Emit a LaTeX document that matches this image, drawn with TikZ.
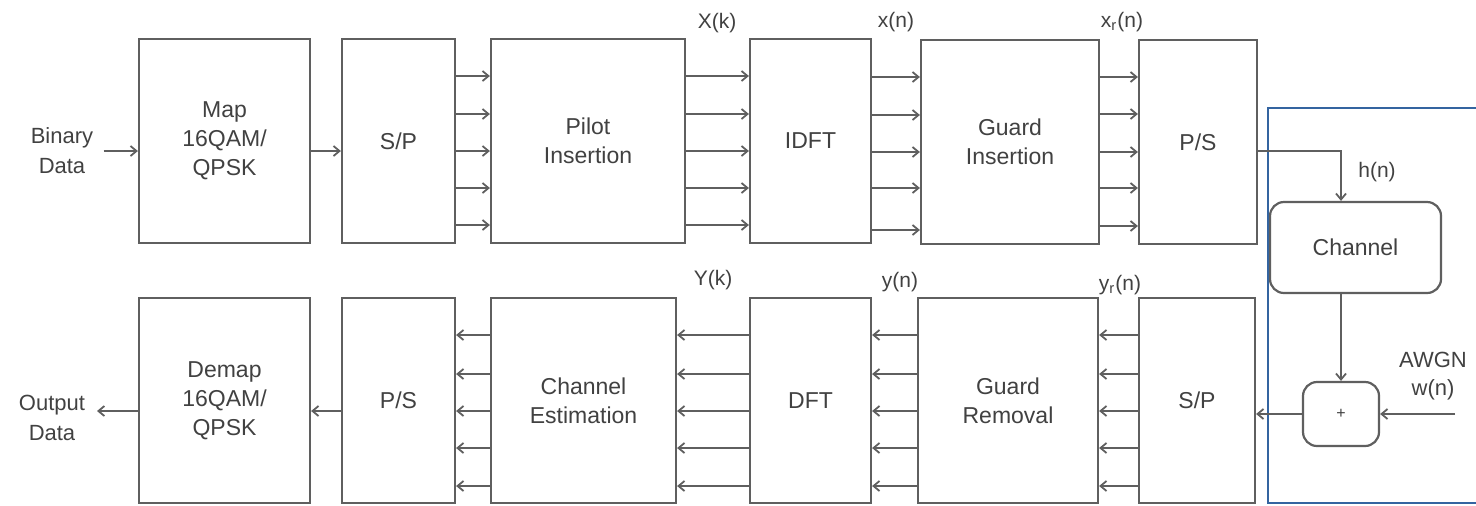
\documentclass[tikz,border=0pt]{standalone}
\usepackage{fontspec}
\setmainfont{Liberation Sans}
\usetikzlibrary{arrows.meta}
\definecolor{ln}{RGB}{95,95,95}
\definecolor{tx}{RGB}{65,65,65}
\definecolor{bl}{RGB}{52,100,160}
\begin{document}
\begin{tikzpicture}[x=0.5pt,y=-0.5pt,
  blockbox/.style={draw=ln, line width=1.1pt, fill=white, text=tx, align=center,
    font=\fontsize{11.5}{14.5}\selectfont, inner sep=0pt},
  tophgt/.style={minimum height=102pt},
  bothgt/.style={minimum height=102.5pt},
  rbox/.style={blockbox, rounded corners=7pt},
  lbl/.style={text=tx, align=center, font=\fontsize{10.5}{13.5}\selectfont, inner sep=0pt},
  arr/.style={draw=ln, line width=0.9pt, -{Straight Barb[length=3pt,width=5pt]}},
  frame/.style={draw=bl, line width=1pt}]
\useasboundingbox (0,0) rectangle (1476,505);
% top row
\node[blockbox, tophgt, minimum width=85.5pt] (map)   at (224.5,141) {Map\\16QAM/\\QPSK};
\node[blockbox, tophgt, minimum width=56.5pt] (sp1)   at (398.5,141) {S/P};
\node[blockbox, tophgt, minimum width=97pt]   (pilot) at (588,141)   {Pilot\\Insertion};
\node[blockbox, tophgt, minimum width=60.5pt] (idft)  at (810.5,141) {IDFT};
\node[blockbox, tophgt, minimum width=89pt]   (gins)  at (1010,142)  {Guard\\Insertion};
\node[blockbox, tophgt, minimum width=59pt]   (ps1)   at (1198,142)  {P/S};
% bottom row
\node[blockbox, bothgt, minimum width=85.5pt] (demap) at (224.5,400.5) {Demap\\16QAM/\\QPSK};
\node[blockbox, bothgt, minimum width=56.5pt] (ps2)   at (398.5,400.5) {P/S};
\node[blockbox, bothgt, minimum width=92.5pt] (chest) at (583.5,400.5) {Channel\\Estimation};
\node[blockbox, bothgt, minimum width=60.5pt] (dft)   at (810.5,400.5) {DFT};
\node[blockbox, bothgt, minimum width=90pt]   (grem)  at (1008,400.5)  {Guard\\Removal};
\node[blockbox, bothgt, minimum width=58pt]   (sp2)   at (1197,400.5)  {S/P};
% channel part
\node[rbox, minimum width=85.5pt, minimum height=45.5pt] (chan) at (1355.5,247.5) {Channel};
\node[rbox, minimum width=38pt, minimum height=32pt, font=\fontsize{8}{9}\selectfont] (plus) at (1341,414) {+};
% texts
\node[lbl, font=\fontsize{11}{15}\selectfont] (bin) at (62,151) {Binary\\Data};
\node[lbl, font=\fontsize{11}{15}\selectfont] (out) at (52,418) {Output\\Data};
\node[lbl, font=\fontsize{11}{14}\selectfont] (awgn) at (1433,376) {AWGN\\w(n)};
\node[lbl] (lXk) at (717,23) {X(k)};
\node[lbl] (lxn) at (896,22) {x(n)};
\node[lbl] (lxr) at (1122,22) {x\textsubscript{r}(n)};
\node[lbl] (lYk) at (713,280) {Y(k)};
\node[lbl] (lyn) at (900,282) {y(n)};
\node[lbl] (lyr) at (1120,285) {y\textsubscript{r}(n)};
\node[lbl] (lhn) at (1377,172) {h(n)};
\coordinate (wn) at (1455,414);
% blue frame
\draw[frame] (1480,108) -- (1268,108) -- (1268,503) -- (1480,503);
% top connectors
\draw[arr] (bin.east) ++(5pt,0) -- (map.west |- bin.east);
\draw[arr] (map.east |- 0,151) -- (sp1.west |- 0,151);
\foreach \y in {76,114,151,188,225} {
  \draw[arr] (sp1.east |- 0,\y) -- (pilot.west |- 0,\y);
  \draw[arr] (pilot.east |- 0,\y) -- (idft.west |- 0,\y);
}
\foreach \y in {77,115,152,188,230}
  \draw[arr] (idft.east |- 0,\y) -- (gins.west |- 0,\y);
\foreach \y in {77,114,152,188,226}
  \draw[arr] (gins.east |- 0,\y) -- (ps1.west |- 0,\y);
\draw[arr] (ps1.east |- 0,151) -| (chan.north -| plus.north);
\draw[arr] (chan.south -| plus.north) -- (plus.north);
\draw[arr] (wn) -- (plus.east);
\draw[arr] (plus.west) -- (sp2.east |- plus.west);
% bottom connectors
\foreach \y in {335,374,411,448,486} {
  \draw[arr] (sp2.west |- 0,\y) -- (grem.east |- 0,\y);
  \draw[arr] (grem.west |- 0,\y) -- (dft.east |- 0,\y);
  \draw[arr] (dft.west |- 0,\y) -- (chest.east |- 0,\y);
  \draw[arr] (chest.west |- 0,\y) -- (ps2.east |- 0,\y);
}
\draw[arr] (ps2.west |- 0,411) -- (demap.east |- 0,411);
\draw[arr] (demap.west |- 0,411) -- (97,411);
\end{tikzpicture}
\end{document}
